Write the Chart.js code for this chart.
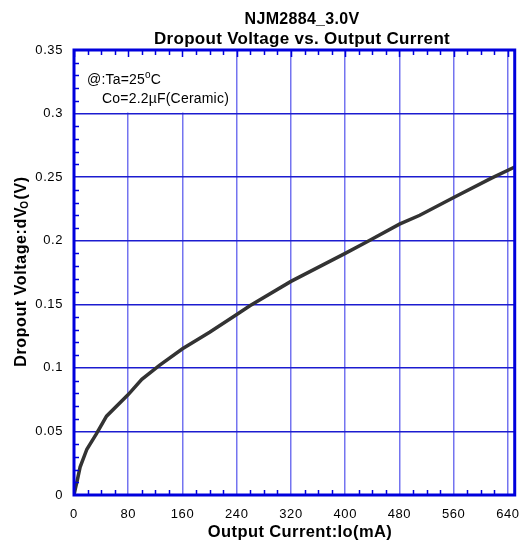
<!DOCTYPE html>
<html>
<head>
<meta charset="utf-8">
<script src="https://cdn.jsdelivr.net/npm/chart.js@4"></script>
<style>
html,body{margin:0;padding:0;background:#fff;}
#wrap{position:relative;width:531px;height:544px;}
</style>
</head>
<body>
<div id="wrap"><canvas id="c" width="531" height="544"></canvas></div>
<script>
// Data
const currentMA = [0, 2, 5, 9, 19, 33, 48, 80, 100, 126, 160, 200, 240, 260, 320, 400, 435, 480, 510, 560, 615, 650];
const dropoutV  = [0, 0.005, 0.012, 0.022, 0.036, 0.048, 0.062, 0.079, 0.091, 0.102, 0.115, 0.128, 0.142, 0.149, 0.168, 0.190, 0.200, 0.213, 0.220, 0.234, 0.249, 0.258];
const xTickValues = [0, 80, 160, 240, 320, 400, 480, 560, 640];
const yTickValues = [0, 0.05, 0.1, 0.15, 0.2, 0.25, 0.3, 0.35];
const titleLines = ["NJM2884_3.0V", "Dropout Voltage vs. Output Current"];
const xAxisTitle = "Output Current:Io(mA)";
const yAxisTitleParts = ["Dropout Voltage:dV", "O", "(V)"];
const noteLine1 = ["@:Ta=25", "o", "C"];
const noteLine2 = "Co=2.2\u00B5F(Ceramic)";

const FONT = "'Liberation Sans', Arial, sans-serif";
const BORDER = '#0000dd';

const points = currentMA.map((x, i) => ({x: x, y: dropoutV[i]}));

const decor = {
  id: 'decor',
  beforeDraw(chart) {
    chart.ctx.letterSpacing = '0.6px';
  },
  beforeDatasetsDraw(chart) {
    // white box behind the annotation
    const ctx = chart.ctx, a = chart.chartArea, ys = chart.scales.y;
    ctx.save();
    ctx.fillStyle = '#fff';
    ctx.fillRect(a.left, a.top, 234 - a.left, ys.getPixelForValue(0.3) - 1 - a.top);
    ctx.restore();
  },
  afterDraw(chart) {
    const ctx = chart.ctx;
    const a = chart.chartArea;
    const xs = chart.scales.x, ys = chart.scales.y;
    ctx.save();
    // minor ticks (inward)
    ctx.strokeStyle = BORDER;
    ctx.lineWidth = 1.5;
    ctx.beginPath();
    for (let v = 20; v < 650; v += 20) {
      if (v % 80 === 0) continue;
      const px = Math.round(xs.getPixelForValue(v)) + 0.5;
      ctx.moveTo(px, a.bottom); ctx.lineTo(px, a.bottom - 5);
      ctx.moveTo(px, a.top); ctx.lineTo(px, a.top + 5);
    }
    for (let v of xTickValues) {
      const px = Math.round(xs.getPixelForValue(v)) + 0.5;
      ctx.moveTo(px, a.top); ctx.lineTo(px, a.top + 7);
    }
    for (let k = 1; k < 35; k++) {
      if (k % 5 === 0) continue;
      const py = Math.round(ys.getPixelForValue(k / 100)) + 0.5;
      ctx.moveTo(a.left, py); ctx.lineTo(a.left + 5, py);
    }
    ctx.stroke();
    // border
    ctx.lineWidth = 3;
    ctx.strokeStyle = BORDER;
    ctx.strokeRect(a.left, a.top, a.right - a.left, a.bottom - a.top);

    // title
    ctx.fillStyle = '#000';
    ctx.textAlign = 'center';
    ctx.textBaseline = 'alphabetic';
    ctx.font = "bold 16px " + FONT;
    ctx.letterSpacing = '0.3px';
    ctx.fillText(titleLines[0], 302, 24);
    ctx.font = "bold 17px " + FONT;
    ctx.letterSpacing = '0.3px';
    ctx.fillText(titleLines[1], 302, 44);

    // x axis title
    ctx.font = "bold 16.5px " + FONT;
    ctx.letterSpacing = '0.4px';
    ctx.fillText(xAxisTitle, 300, 537);

    // y axis title (rotated, with subscript)
    ctx.save();
    ctx.translate(26, 271);
    ctx.rotate(-Math.PI / 2);
    ctx.textAlign = 'left';
    ctx.letterSpacing = '0.6px';
    const fMain = "bold 16px " + FONT, fSub = "bold 10px " + FONT;
    ctx.font = fMain; const w1 = ctx.measureText(yAxisTitleParts[0]).width;
    ctx.font = fSub; const w2 = ctx.measureText(yAxisTitleParts[1]).width;
    ctx.font = fMain; const w3 = ctx.measureText(yAxisTitleParts[2]).width;
    let sx = -(w1 + w2 + w3) / 2;
    ctx.font = fMain; ctx.fillText(yAxisTitleParts[0], sx, 0); sx += w1 - 2;
    ctx.font = fSub; ctx.fillText(yAxisTitleParts[1], sx, 2); sx += w2 + 1;
    ctx.font = fMain; ctx.fillText(yAxisTitleParts[2], sx, 0);
    ctx.restore();

    // annotation
    ctx.textAlign = 'left';
    ctx.letterSpacing = '0.2px';
    ctx.font = "14px " + FONT;
    let nx = 87;
    ctx.fillText(noteLine1[0], nx, 84); nx += ctx.measureText(noteLine1[0]).width;
    ctx.font = "10px " + FONT;
    ctx.fillText(noteLine1[1], nx, 78); nx += ctx.measureText(noteLine1[1]).width;
    ctx.font = "14px " + FONT;
    ctx.fillText(noteLine1[2], nx, 84);
    ctx.fillText(noteLine2, 102, 103);
    ctx.restore();
  }
};

new Chart(document.getElementById('c'), {
  type: 'line',
  data: {
    datasets: [{
      data: points,
      borderColor: '#333333',
      borderWidth: 3.5,
      pointRadius: 0,
      tension: 0,
      fill: false
    }]
  },
  options: {
    responsive: false,
    animation: false,
    devicePixelRatio: 1,
    layout: {padding: {top: 50, right: 14, left: 0, bottom: 0}},
    plugins: {legend: {display: false}, title: {display: false}, tooltip: {enabled: false}},
    scales: {
      x: {
        type: 'linear', min: 0, max: 650,
        afterBuildTicks: (s) => { s.ticks = xTickValues.map(v => ({value: v})); },
        afterFit: (s) => { s.height = 49; },
        ticks: {includeBounds: false, color: '#000', font: {family: FONT, size: 13}, padding: 12, maxRotation: 0,
          callback: (v) => String(v)},
        grid: {color: 'rgba(70,70,235,0.75)', lineWidth: 1.5, drawTicks: false},
        border: {display: false}
      },
      y: {
        type: 'linear', min: 0, max: 0.35,
        afterBuildTicks: (s) => { s.ticks = yTickValues.map(v => ({value: v})); },
        afterFit: (s) => { s.width = 74; },
        ticks: {includeBounds: false, color: '#000', font: {family: FONT, size: 13}, padding: 11,
          callback: (v) => String(Number(v.toFixed(2)))},
        grid: {color: '#1c1cd0', lineWidth: 1.5, drawTicks: false},
        border: {display: false}
      }
    }
  },
  plugins: [decor]
});
</script>
</body>
</html>
